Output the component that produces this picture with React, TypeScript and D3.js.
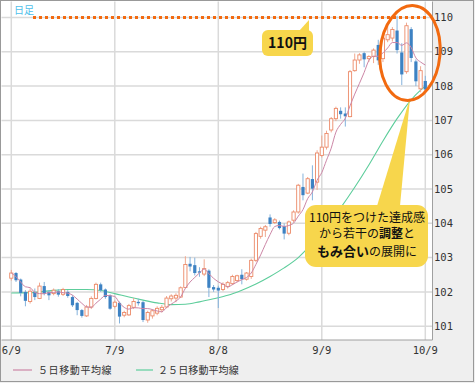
import React from 'react';
import * as d3 from 'd3';

// ---- data (USD/JPY daily) ----
const dateLabels = ['6/9', '7/9', '8/8', '9/9', '10/9'];
const dateLabelIndex = [0, 22, 44, 66, 88];
const yTicks = [101, 102, 103, 104, 105, 106, 107, 108, 109, 110];

const open = [
  102.40, 102.55, 102.36, 102.00, 101.72, 102.00, 101.81, 102.17, 102.00, 101.95,
  102.02, 101.93, 102.00, 101.85, 101.68, 101.47, 101.30, 101.56, 101.81, 102.22,
  102.07, 101.90, 101.58, 101.68, 101.32, 101.33, 101.55, 101.71, 101.70, 101.18,
  101.30, 101.38, 101.48, 101.56, 101.80, 101.82, 101.85, 102.13, 102.82, 102.78,
  102.60, 102.52, 102.62, 102.14, 102.12, 102.07, 102.16, 102.24, 102.33, 102.50,
  102.37, 102.45, 102.92, 103.62, 103.80, 104.17, 104.02, 104.04, 103.92, 103.71,
  104.09, 104.33, 105.06, 104.88, 105.29, 105.20, 105.98, 106.22, 106.72, 107.05,
  107.28, 107.20, 107.11, 108.45, 108.76, 108.96, 108.80, 108.86, 109.20, 108.80,
  109.35, 109.40, 109.62, 108.98, 108.42, 109.66, 108.72, 107.92, 108.15,
];
const high = [
  102.64, 102.58, 102.39, 102.05, 102.10, 102.10, 102.27, 102.29, 102.05, 102.10,
  102.08, 102.12, 102.05, 101.90, 101.71, 101.50, 101.62, 101.87, 102.27, 102.27,
  102.10, 101.93, 101.75, 101.72, 101.45, 101.65, 101.82, 101.80, 101.74, 101.45,
  101.50, 101.58, 101.62, 101.88, 101.93, 101.96, 102.16, 103.04, 103.02, 103.00,
  102.72, 102.95, 102.66, 102.20, 102.18, 102.28, 102.32, 102.50, 102.50, 102.66,
  102.58, 102.97, 103.75, 103.90, 103.95, 104.26, 104.15, 104.08, 104.00, 104.08,
  104.38, 105.15, 105.45, 105.35, 105.69, 106.13, 106.56, 106.70, 107.10, 107.40,
  107.38, 107.38, 108.47, 108.95, 108.96, 109.00, 108.90, 109.10, 109.35, 109.50,
  109.75, 109.72, 110.05, 109.25, 109.85, 109.72, 108.78, 108.58, 108.30,
];
const low = [
  102.33, 102.29, 101.87, 101.58, 101.66, 101.76, 101.79, 101.90, 101.76, 101.90,
  101.86, 101.88, 101.83, 101.56, 101.32, 101.25, 101.27, 101.50, 101.78, 102.00,
  101.80, 101.48, 101.52, 101.08, 101.26, 101.30, 101.50, 101.60, 101.12, 101.10,
  101.22, 101.32, 101.40, 101.52, 101.72, 101.70, 101.82, 102.10, 102.60, 102.48,
  102.44, 102.46, 101.85, 102.00, 101.53, 102.02, 102.10, 102.20, 102.28, 102.22,
  102.33, 102.38, 102.87, 103.55, 103.60, 103.90, 103.98, 103.82, 103.53, 103.65,
  104.03, 104.28, 104.67, 104.85, 104.67, 104.97, 105.92, 106.15, 106.65, 106.98,
  107.05, 106.82, 107.09, 108.42, 108.65, 108.55, 108.70, 108.67, 108.62, 108.70,
  109.28, 109.30, 108.95, 108.03, 108.36, 108.70, 108.00, 107.82, 107.86,
];
const close = [
  102.55, 102.34, 101.97, 101.74, 102.02, 101.85, 102.17, 101.95, 101.90, 102.05,
  101.92, 102.07, 101.88, 101.61, 101.47, 101.30, 101.56, 101.81, 102.22, 102.05,
  101.85, 101.51, 101.70, 101.28, 101.40, 101.60, 101.72, 101.67, 101.18, 101.40,
  101.45, 101.52, 101.55, 101.82, 101.88, 101.90, 102.12, 102.80, 102.74, 102.55,
  102.56, 102.68, 102.12, 102.07, 102.04, 102.22, 102.27, 102.45, 102.47, 102.37,
  102.55, 102.92, 103.70, 103.85, 103.90, 103.98, 104.10, 103.86, 103.70, 104.04,
  104.33, 105.11, 104.82, 105.30, 105.01, 106.05, 106.22, 106.62, 107.05, 107.35,
  107.18, 107.12, 108.42, 108.76, 108.91, 108.78, 108.86, 109.05, 108.75, 109.40,
  109.50, 109.65, 109.05, 108.34, 109.76, 108.82, 108.14, 108.45, 107.90,
];

// 25-day moving average at these day indices
const ma25Index = [0, 4, 8, 12, 16, 19, 22, 25, 28, 31, 34, 37, 40, 43, 46, 49, 52, 55, 58, 61, 64, 67, 70, 73, 76, 79, 82, 85, 87, 88];
const ma25Value = [
  101.97, 101.98, 102.03, 102.07, 102.07, 102.04, 101.95, 101.85, 101.76, 101.68,
  101.63, 101.64, 101.71, 101.80, 101.90, 102.05, 102.23, 102.45, 102.70, 103.00,
  103.42, 103.90, 104.45, 105.05, 105.70, 106.40, 107.05, 107.60, 107.88, 108.00,
];

const legendLabels = ['５日移動平均線', '２５日移動平均線'];

const UP = '#ec8a68';
const UP_WICK = '#f0a88f';
const DOWN = '#3d82c3';
const DOWN_WICK = '#84b2dc';
const MA5_COLOR = '#cc86a6';
const MA25_COLOR = '#5dcd9b';
const ORANGE = '#f26a10';
const YELLOW = '#f7d64c';
const GRID = '#dadada';
const BAND = '#efefef';

export default function App() {
  const W = 475;
  const H = 383;
  const plotL = 1.5, plotT = 1.5, plotR = 432.5, plotB = 340;

  const x = d3.scaleLinear().domain([0, 88]).range([11.3, 425.3]);
  const y = d3.scaleLinear().domain([101, 110]).range([326.2, 17.5]);

  const ma5 = close.map((_, i) => d3.mean(close.slice(Math.max(0, i - 4), i + 1)) as number);
  const ma5Path = d3.line<number>().x((_, i) => x(i)).y((d) => y(d)).curve(d3.curveMonotoneX)(ma5) || '';
  const ma25Path = d3.line<number>().x((_, i) => x(ma25Index[i])).y((d) => y(d)).curve(d3.curveMonotoneX)(ma25Value) || '';

  const bw = 3.2;
  const monoFont = '"DejaVu Sans Mono", monospace';
  const jpFont = '"Noto Sans CJK JP", sans-serif';

  return (
    <svg width={W} height={H} style={{ position: 'absolute', left: 0, top: 0, background: '#fff' }}>
      <defs>
        <clipPath id="plotClip">
          <rect x={plotL} y={plotT} width={plotR - plotL} height={plotB - plotT} />
        </clipPath>
      </defs>
      {/* bands */}
      <rect x={plotR} y={0} width={W - plotR} height={H} fill={BAND} />
      <rect x={0} y={plotB} width={W} height={H - plotB} fill={BAND} />
      <rect x={plotL} y={plotT} width={plotR - plotL} height={plotB - plotT} fill="#fff" />

      {/* grid */}
      {yTicks.map((t) => (
        <line key={'h' + t} x1={plotL} x2={plotR} y1={y(t)} y2={y(t)} stroke={GRID} strokeWidth={1.5} />
      ))}
      {dateLabelIndex.map((d) => (
        <line key={'v' + d} x1={x(d)} x2={x(d)} y1={plotT} y2={plotB} stroke={GRID} strokeWidth={1.5} />
      ))}

      <g clipPath="url(#plotClip)">
        {/* 25 MA */}
        <path d={ma25Path} fill="none" stroke={MA25_COLOR} strokeWidth={1.1} />
        {/* candles */}
        {open.map((o, i) => {
          const c = close[i];
          const up = c >= o;
          const cx = x(i);
          const top = y(Math.max(o, c));
          const bot = y(Math.min(o, c));
          return (
            <g key={i}>
              <line x1={cx} x2={cx} y1={y(high[i])} y2={y(low[i])} stroke={up ? UP_WICK : DOWN_WICK} strokeWidth={1} />
              {up ? (
                <rect x={cx - bw / 2} y={top} width={bw} height={Math.max(1, bot - top)} fill="#fff" stroke={UP} strokeWidth={0.9} />
              ) : (
                <rect x={cx - bw / 2} y={top} width={bw} height={Math.max(1, bot - top)} fill={DOWN} />
              )}
            </g>
          );
        })}
        {/* 5 MA */}
        <path d={ma5Path} fill="none" stroke={MA5_COLOR} strokeWidth={1} />
      </g>

      {/* plot frame */}
      <line x1={plotR} x2={plotR} y1={plotT} y2={plotB} stroke="#a0a0a0" strokeWidth={1} />
      <line x1={plotL} x2={plotR} y1={plotB} y2={plotB} stroke="#a0a0a0" strokeWidth={1} />

      {/* y labels */}
      {yTicks.map((t) => (
        <text key={'yl' + t} x={434} y={y(t)} dy="0.35em" fontSize={10.5} fontFamily={monoFont} fill="#333">
          {t}
        </text>
      ))}
      {/* x labels */}
      {dateLabels.map((l, i) => (
        <text key={'xl' + l} x={x(dateLabelIndex[i])} y={350} dy="0.35em" textAnchor="middle" fontSize={10.5} fontFamily={monoFont} fill="#333">
          {l}
        </text>
      ))}

      {/* legend */}
      <line x1={13} x2={32} y1={370} y2={370} stroke={MA5_COLOR} strokeWidth={1.2} />
      <text x={38} y={370} dy="0.36em" fontSize={10} letterSpacing={0.6} fontFamily={jpFont} fill="#333">{legendLabels[0]}</text>
      <line x1={136} x2={153} y1={370} y2={370} stroke={MA25_COLOR} strokeWidth={1.2} />
      <text x={158} y={370} dy="0.36em" fontSize={10} letterSpacing={0.1} fontFamily={jpFont} fill="#333">{legendLabels[1]}</text>

      {/* 日足 */}
      <text x={14} y={10} dy="0.36em" fontSize={10} fontFamily={jpFont} fill="#4fc0ea">日足</text>

      {/* 110 dotted line */}
      <line x1={33} x2={426} y1={y(110)} y2={y(110)} stroke={ORANGE} strokeWidth={3} strokeDasharray="3 3" />

      {/* callout 110円 */}
      <polygon points="299,31 309,31 309,20" fill={YELLOW} />
      <rect x={262} y={30} width={51} height={26} rx={6} fill={YELLOW} />
      <text x={287.5} y={43} dy="0.36em" textAnchor="middle" fontSize={14} fontWeight={700} fontFamily={jpFont} fill="#111">110円</text>

      {/* big callout */}
      <polygon points="377,206 400,206 410,98" fill={YELLOW} />
      <rect x={305} y={205} width={123} height={62} rx={11} fill={YELLOW} />
      <text x={367} y={218} dy="0.36em" textAnchor="middle" fontSize={12} fontFamily={jpFont} fill="#111">110円をつけた達成感</text>
      <text x={367} y={233.5} dy="0.36em" textAnchor="middle" fontSize={12} fontFamily={jpFont} fill="#111">
        から若干の<tspan fontWeight={700}>調整</tspan>と
      </text>
      <text x={367} y={251.5} dy="0.36em" textAnchor="middle" fontSize={12} fontFamily={jpFont} fill="#111">
        <tspan fontWeight={700} fontSize={13}>もみ合い</tspan>の展開に
      </text>

      {/* ellipse */}
      <ellipse cx={410} cy={53} rx={30} ry={47.5} fill="none" stroke={ORANGE} strokeWidth={3} transform="rotate(5 410 53)" />

      {/* outer border */}
      <rect x={0.5} y={0.5} width={W - 2} height={H - 2} fill="none" stroke="#999" strokeWidth={1} />
    </svg>
  );
}
